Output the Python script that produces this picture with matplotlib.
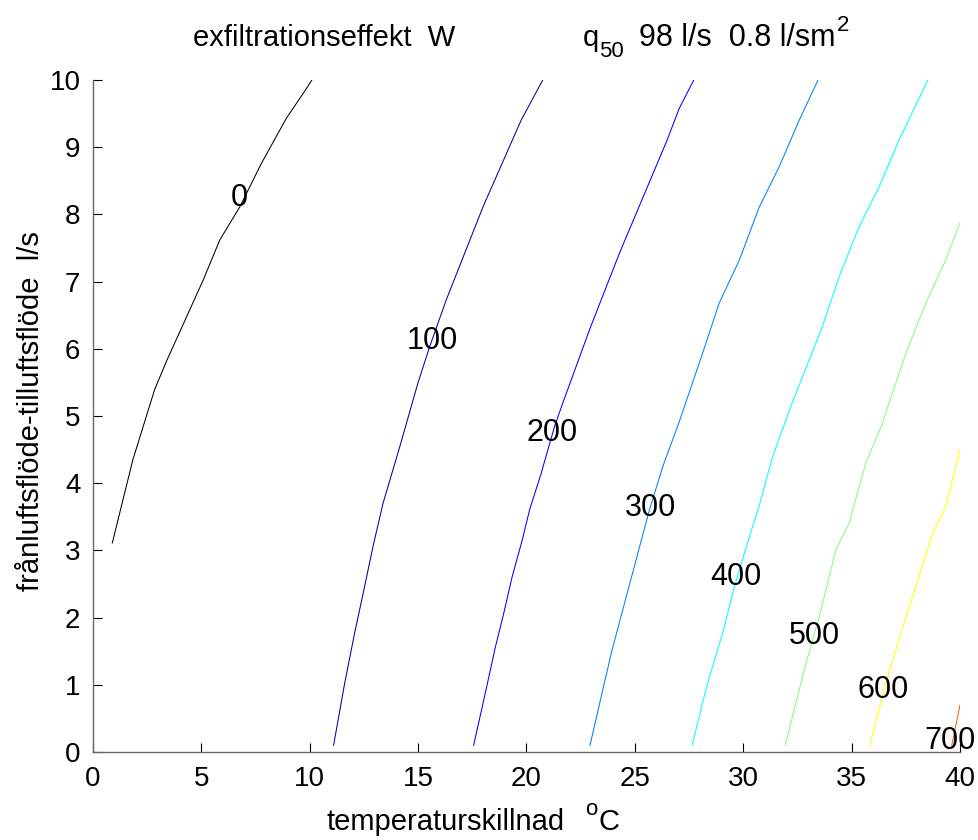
import matplotlib
matplotlib.use('Agg')
import matplotlib.pyplot as plt

plt.rcParams['font.family'] = ['Liberation Sans', 'DejaVu Sans']

# ── contour lines (x = temperature diff, y = flow) ──
LEVELS = [0, 100, 200, 300, 400, 500, 600, 700]
COLORS = ['#000000', '#0000a8', '#0000ff', '#0080ff', '#00ffff', '#80ff80', '#ffff00', '#ff6000']

L0_X = [0.89, 1.84, 2.84, 3.41, 3.93, 5.08, 5.85, 6.77, 7.77, 8.92, 9.80, 10.10]
L0_Y = [3.11, 4.35, 5.39, 5.83, 6.20, 7.02, 7.62, 8.11, 8.76, 9.43, 9.85, 10.00]

L100_X = [11.10, 11.61, 12.07, 12.43, 12.92, 13.38, 14.15, 14.99, 15.53, 16.30, 17.99, 19.75, 20.75]
L100_Y = [0.10, 1.02, 1.77, 2.31, 3.06, 3.70, 4.54, 5.49, 6.03, 6.73, 8.11, 9.40, 10.00]

L200_X = [17.56, 18.06, 18.57, 18.91, 19.34, 19.80, 20.14, 20.68, 21.29, 21.67, 22.95, 24.31, 26.48, 27.05, 27.72]
L200_Y = [0.10, 0.82, 1.57, 2.01, 2.61, 3.15, 3.60, 4.15, 4.84, 5.19, 6.32, 7.44, 9.10, 9.58, 10.00]

L300_X = [22.93, 23.55, 23.95, 24.56, 25.18, 25.67, 26.29, 27.02, 27.39, 28.12, 28.89, 29.82, 30.74, 31.66, 32.58, 33.45]
L300_Y = [0.10, 0.97, 1.52, 2.26, 3.01, 3.60, 4.25, 4.89, 5.24, 5.93, 6.68, 7.32, 8.11, 8.71, 9.40, 10.00]

L400_X = [27.64, 28.35, 29.05, 29.59, 30.05, 30.81, 31.35, 32.20, 33.65, 34.42, 35.35, 36.27, 37.19, 38.52]
L400_Y = [0.10, 1.02, 1.77, 2.46, 2.96, 3.75, 4.39, 5.15, 6.33, 7.07, 7.82, 8.41, 9.11, 10.00]

L500_X = [31.94, 32.81, 33.50, 34.27, 34.88, 35.65, 36.42, 36.70, 37.50, 38.42, 39.34, 40.00]
L500_Y = [0.10, 1.22, 2.01, 3.01, 3.40, 4.30, 4.89, 5.17, 5.93, 6.68, 7.32, 7.88]

L600_X = [35.84, 36.58, 37.27, 37.96, 38.73, 39.34, 40.00]
L600_Y = [0.10, 1.02, 1.77, 2.46, 3.25, 3.65, 4.50]

L700_X = [39.62, 40.00]
L700_Y = [0.10, 0.70]

LINES_X = [L0_X, L100_X, L200_X, L300_X, L400_X, L500_X, L600_X, L700_X]
LINES_Y = [L0_Y, L100_Y, L200_Y, L300_Y, L400_Y, L500_Y, L600_Y, L700_Y]

# contour label positions
LABEL_X = [6.77, 15.67, 21.20, 25.70, 29.67, 33.27, 36.47, 39.54]
LABEL_Y = [8.24, 6.12, 4.75, 3.63, 2.61, 1.72, 0.92, 0.16]

X_TICKS = list(range(0, 41, 5))
Y_TICKS = list(range(0, 11))


def put_run(fig, renderer, pieces, x0, W, H):
    """Write text pieces one after another: (text, size, baseline_px_from_top, gap_px)."""
    x = x0
    for txt, size, base, gap in pieces:
        x += gap
        t = fig.text(x / W, 1 - base / H, txt, fontsize=size, ha='left', va='baseline')
        x = t.get_window_extent(renderer).x1
    return x


def main():
    W, H = 979, 840
    fig = plt.figure(figsize=(W / 100, H / 100), dpi=100)
    fig.patch.set_facecolor('white')
    ax = fig.add_axes([93 / W, 1 - 752 / H, (960 - 93) / W, (752 - 80) / H])

    for xs, ys, c in zip(LINES_X, LINES_Y, COLORS):
        ax.plot(xs, ys, color=c, linewidth=0.75, solid_joinstyle='round')

    for lev, lx, ly in zip(LEVELS, LABEL_X, LABEL_Y):
        ax.text(lx, ly, str(lev), fontsize=22, ha='center', va='center', clip_on=False)

    ax.set_xlim(0, 40)
    ax.set_ylim(0, 10)
    ax.set_xticks(X_TICKS)
    ax.set_yticks(Y_TICKS)
    ax.tick_params(direction='in', length=6.5, width=0.8, labelsize=20, colors='black')
    ax.tick_params(axis='x', pad=10)
    ax.tick_params(axis='y', pad=9)
    ax.spines['top'].set_visible(False)
    ax.spines['right'].set_visible(False)
    for s in ('left', 'bottom'):
        ax.spines[s].set_color('#666666')
        ax.spines[s].set_linewidth(1.0)

    renderer = fig.canvas.get_renderer()

    # title pieces (MATLAB-style big sub/superscripts)
    put_run(fig, renderer, [('exfiltrationseffekt  W', 21, 46, 0)], 193, W, H)
    put_run(fig, renderer, [('q', 21, 46, 0),
                            ('50', 16, 57, 0),
                            ('98 l/s  0.8 l/sm', 22, 46, 15),
                            ('2', 16, 31, 1)], 583, W, H)

    # x label with raised "o"
    put_run(fig, renderer, [('temperaturskillnad', 21, 830, 0),
                            ('o', 16, 815, 20),
                            ('C', 21, 830, 1)], 327, W, H)

    fig.text(31 / W, 1 - 411 / H, 'frånluftsflöde-tilluftsflöde  l/s', fontsize=21,
             ha='center', va='center', rotation=90)

    fig.savefig('out.png', dpi=100, facecolor='white')
    plt.close(fig)


if __name__ == '__main__':
    main()
